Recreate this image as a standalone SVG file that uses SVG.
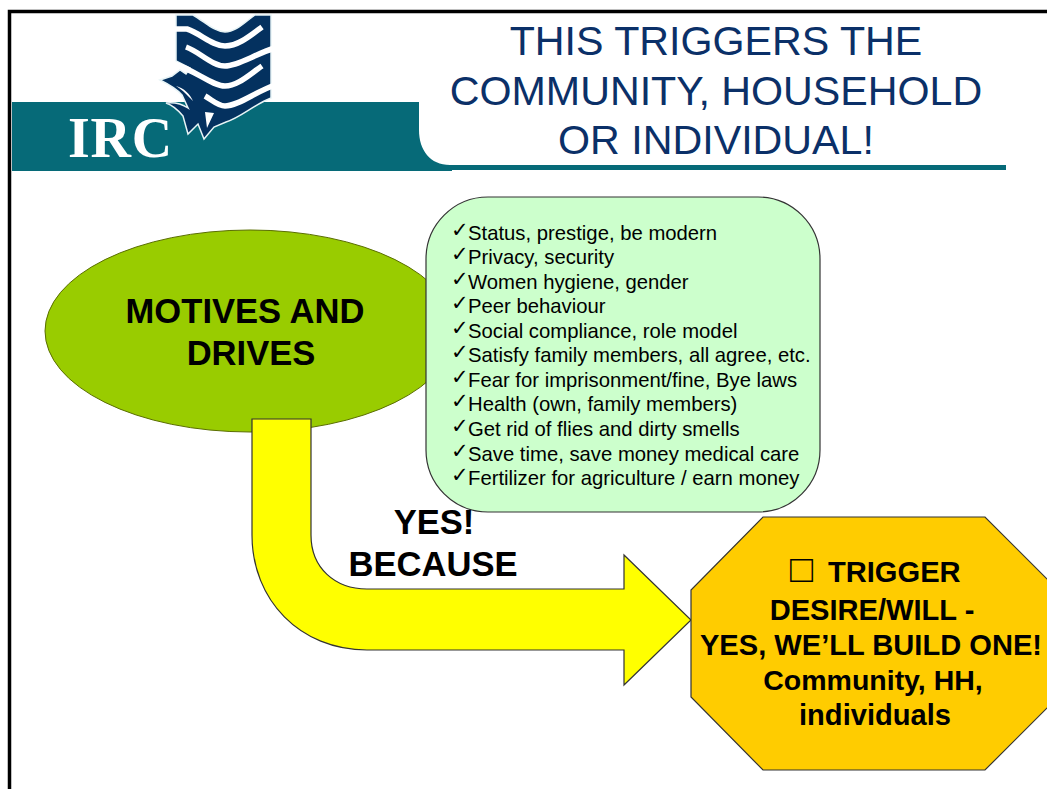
<svg xmlns="http://www.w3.org/2000/svg" width="1047" height="789" viewBox="0 0 1047 789">
<style>
text{font-family:"Liberation Sans",Arial,sans-serif}
.title{font-size:41.200px;fill:#0b3068;text-anchor:middle}
.big{font-size:34.600px;font-weight:bold;fill:#000;text-anchor:middle}
.trig{font-size:29.100px;font-weight:bold;fill:#000;text-anchor:middle}
.item{font-size:20.300px;fill:#000}
.chk{font-size:21px;font-family:"DejaVu Sans",sans-serif;fill:#000}
.shape{stroke:#333;stroke-width:1.200}
.gap{fill:none;stroke:#fff;stroke-width:5.500}
</style>
<rect width="1047" height="789" fill="#fff"/>
<path d="M1047 11.500H9.500V789" fill="none" stroke="#000" stroke-width="3.500"/>
<g id="logo">
<path d="M12 102H419V130C419 150 430 165 450 165H1006V170H452V171H12Z" fill="#066a78"/>
<path d="M176 15H193C205 22 215 32 225 32C236 32 245 22 255 15H271V98C255 104 240 118 226 122L214 127L204 139L198 124L188 134L183 116C178 110 172 105 166 103C175 102 182 104 188 108L182 95C176 88 168 84 160 80L172 76L180 70L186 74L190 68L176 61Z" fill="#04315f" stroke="#e8f4f6" stroke-width="1.500"/>
<path class="gap" d="M172 29H187C200 33 212 46 225 46C238 46 250 36 262 27"/>
<path class="gap" d="M186 47C200 52 212 66 225 66C238 66 255 54 275 48"/>
<path class="gap" d="M174 64C195 70 212 86 225 86C238 86 250 74 262 66"/>
<path class="gap" d="M205 96C212 100 218 106 225 106C238 106 255 92 275 85"/>
<path d="M176 86C184 88 190 94 193 101L186 94C182 90 179 88 176 86Z" fill="#fff"/>
<path d="M205 112L214 113L207 128Z" fill="#fff"/>
<text x="68" y="157" font-size="56" font-weight="bold" fill="#fff" style="font-family:'Liberation Serif',serif" letter-spacing="0.700">IRC</text>
</g>
<g id="title">
<text class="title" x="716" y="55">THIS TRIGGERS THE</text>
<text class="title" x="716" y="105">COMMUNITY, HOUSEHOLD</text>
<text class="title" x="716" y="154">OR INDIVIDUAL!</text>
</g>
<g id="motives">
<ellipse cx="250" cy="331" rx="205" ry="101" fill="#99cc00" stroke="#5a6e00" stroke-width="1"/>
<text class="big" x="245" y="323">MOTIVES AND</text>
<text class="big" x="251" y="365">DRIVES</text>
</g>
<g id="reasons">
<rect x="426" y="197" width="394" height="315" rx="62" fill="#ccffcc" class="shape"/>
<g class="chk">
<text x="451" y="237">✓</text><text x="451" y="261">✓</text><text x="451" y="286">✓</text><text x="451" y="310">✓</text><text x="451" y="335">✓</text><text x="451" y="359">✓</text><text x="451" y="384">✓</text><text x="451" y="408">✓</text><text x="451" y="433">✓</text><text x="451" y="458">✓</text><text x="451" y="482">✓</text>
</g>
<g class="item">
<text x="468" y="240">Status, prestige, be modern</text>
<text x="468" y="264">Privacy, security</text>
<text x="468" y="289">Women hygiene, gender</text>
<text x="468" y="313">Peer behaviour</text>
<text x="468" y="338">Social compliance, role model</text>
<text x="468" y="362">Satisfy family members, all agree, etc.</text>
<text x="468" y="387">Fear for imprisonment/fine, Bye laws</text>
<text x="468" y="411">Health (own, family members)</text>
<text x="468" y="436">Get rid of flies and dirty smells</text>
<text x="468" y="461">Save time, save money medical care</text>
<text x="468" y="485">Fertilizer for agriculture / earn money</text>
</g>
</g>
<g id="connectors">
<path d="M252 419H311V535C311 568 335 589 367 589H624V555L691 620L624 685V650H367C300 650 252 600 252 535Z" fill="#ffff00" class="shape"/>
<text class="big" x="434" y="534">YES!</text>
<text class="big" x="433" y="576">BECAUSE</text>
</g>
<g id="trigger">
<path d="M763 517H985L1058 590V697L985 770H763L691 697V590Z" fill="#ffcc00" class="shape"/>
<text class="trig" x="790" y="582" style="text-anchor:start"><tspan font-size="38">□</tspan><tspan x="828" y="582">TRIGGER</tspan></text>
<text class="trig" x="872" y="620">DESIRE/WILL -</text>
<text class="trig" x="871" y="655">YES, WE’LL BUILD ONE!</text>
<text class="trig" x="873" y="690" font-size="28.500" style="font-size:28.500px">Community, HH,</text>
<text class="trig" x="875" y="725">individuals</text>
</g>
</svg>
